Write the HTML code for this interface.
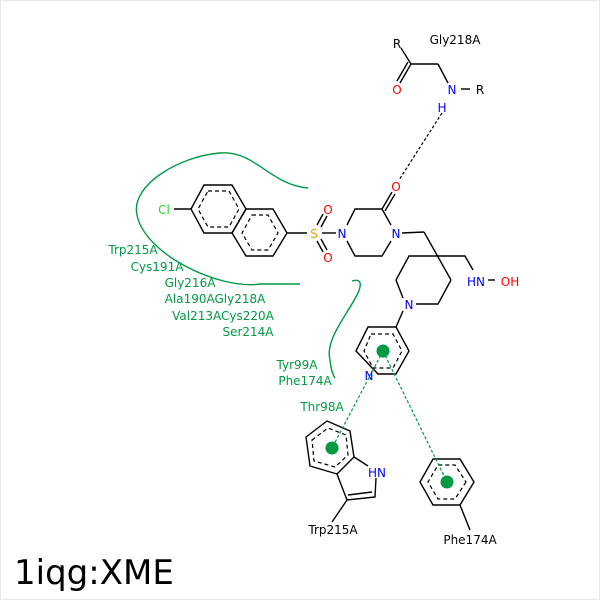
<!DOCTYPE html>
<html><head><meta charset="utf-8"><style>
html,body{margin:0;padding:0;background:#fff}
svg{display:block}
text{font-family:"DejaVu Sans","Liberation Sans",sans-serif;font-size:12px}
</style></head><body>
<svg width="600" height="600" viewBox="0 0 600 600" xmlns="http://www.w3.org/2000/svg">
<rect x="0.5" y="0.5" width="599" height="599" fill="#fff" stroke="#e8e8e8"/>
<g stroke="#000" stroke-width="1.4" fill="none">
<!-- Gly218A backbone -->
<line x1="401" y1="48" x2="411" y2="64"/>
<line x1="411" y1="64" x2="438" y2="64"/>
<line x1="438" y1="64" x2="448" y2="83"/>
<line x1="411" y1="64" x2="400" y2="83"/><line x1="408" y1="62" x2="397" y2="81"/>
<line x1="461" y1="89" x2="470" y2="89"/>
<!-- naphthalene -->
<polygon points="204,185 232,185 246,209 232,233 204,233 191,209"/>
<polygon points="246,209 273,209 287,233 273,256 246,256 232,233"/>
<line x1="174" y1="209" x2="191" y2="209"/>
<line x1="287" y1="233" x2="307" y2="233"/>
<!-- sulfonyl -->
<line x1="321" y1="227" x2="327" y2="216"/><line x1="317" y1="225" x2="323" y2="214"/>
<line x1="321" y1="239" x2="327" y2="250"/><line x1="317" y1="241" x2="323" y2="252"/>
<line x1="322" y1="233" x2="336" y2="233"/>
<!-- piperazinone -->
<polyline points="347,225 355,209 382,209 391,225"/>
<polyline points="347,241 355,256 382,256 391,241"/>
<line x1="382" y1="209" x2="392" y2="192"/><line x1="385" y1="211" x2="395" y2="194"/>
<line x1="402" y1="233" x2="424" y2="232"/>
<line x1="424" y1="232" x2="451" y2="280"/>
<!-- piperidine -->
<polyline points="403,298 396,280 409,256 465,256 473,270"/>
<polyline points="451,280 438,304 416,304"/>
<line x1="403" y1="311" x2="396" y2="327"/>
<line x1="488" y1="280" x2="495" y2="280"/>
<!-- pyridine -->
<polygon points="368,327 396,327 409,351 396,374 378,374 356,351" />
<!-- indole -->
<polygon points="306,437 327,421 350,431 354,457 337,474 310,466"/>
<polyline points="354,457 368,466"/>
<polyline points="376,478 375,497 347,500 337,474"/>
<line x1="348" y1="495" x2="372" y2="492"/>
<line x1="347" y1="500" x2="332" y2="522"/>
<!-- phe -->
<polygon points="474,482 460,505 433,505 420,482 433,459 460,459"/>
<line x1="460" y1="505" x2="470" y2="530"/>
</g>
<g stroke="#000" stroke-width="1.2" fill="none" stroke-dasharray="4,3">
<polygon points="208,191 229,191 239,209 229,227 208,227 198,209"/>
<polygon points="252,215 268,215 278,233 268,250 252,250 242,233"/>
<polygon points="371,334 393,334 402,351 393,368 373,368 364,351"/>
<polygon points="312,440 328,428 346,435 348,455 335,467 314,461"/>
<polygon points="466,482 455,499 438,499 428,482 438,465 455,465"/>
<line x1="442" y1="113" x2="399" y2="180" stroke-dasharray="3,2"/>
</g>
<!-- green hydrophobic curves -->
<g stroke="#009944" stroke-width="1.4" fill="none">
<path d="M308,188 C270,185 255,150 220,153 C180,156 130,185 137,215 C145,255 220,290 260,284 L300,284"/>
<path d="M352,281 C362,278 362,285 357,295 C345,318 325,340 330,360 C331,370 333,375 335,378"/>
</g>
<g stroke="#009944" stroke-width="1.2" stroke-dasharray="3,2">
<line x1="383" y1="351" x2="447" y2="482"/>
<line x1="383" y1="351" x2="332" y2="448"/>
</g>
<g fill="#009944"><circle cx="383" cy="351" r="6.5"/><circle cx="332" cy="448" r="6.5"/><circle cx="447" cy="482" r="6.5"/></g>
<!-- atom labels -->
<g text-anchor="middle" font-size="13">
<text x="397" y="48" font-size="13">R</text>
<text x="397" y="94" fill="#f00" font-size="13">O</text>
<text x="452" y="94" fill="#00f" font-size="13">N</text>
<text x="480" y="94" font-size="13">R</text>
<text x="442" y="112" fill="#00f" font-size="13">H</text>
<text x="396" y="191" fill="#f00" font-size="13">O</text>
<text x="164" y="214" fill="#2d2" font-size="13">Cl</text>
<text x="314" y="238" fill="#f0a000" font-size="13">S</text>
<text x="328" y="214" fill="#f00" font-size="13">O</text>
<text x="328" y="262" fill="#f00" font-size="13">O</text>
<text x="342" y="238" fill="#00f" font-size="13">N</text>
<text x="396" y="238" fill="#00f" font-size="13">N</text>
<text x="409" y="309" fill="#00f" font-size="13">N</text>
<text x="476" y="286" fill="#00f" font-size="13">HN</text>
<text x="510" y="286" fill="#f00" font-size="13">OH</text>
<text x="369" y="380" fill="#00f" font-size="13">N</text>
<text x="377" y="477" fill="#00f" font-size="13">HN</text>
</g>
<g text-anchor="middle">
<text x="455" y="44">Gly218A</text>
<text x="333" y="534">Trp215A</text>
<text x="470" y="544">Phe174A</text>
</g>
<g fill="#009944" text-anchor="middle">
<text x="133" y="254">Trp215A</text>
<text x="157" y="271">Cys191A</text>
<text x="190" y="287">Gly216A</text>
<text x="215" y="303">Ala190AGly218A</text>
<text x="223" y="320">Val213ACys220A</text>
<text x="248" y="336">Ser214A</text>
<text x="297" y="369">Tyr99A</text>
<text x="305" y="385">Phe174A</text>
<text x="322" y="411">Thr98A</text>
</g>
<text x="14" y="584" font-size="34" style="font-size:34px">1iqg:XME</text>
</svg>
</body></html>
